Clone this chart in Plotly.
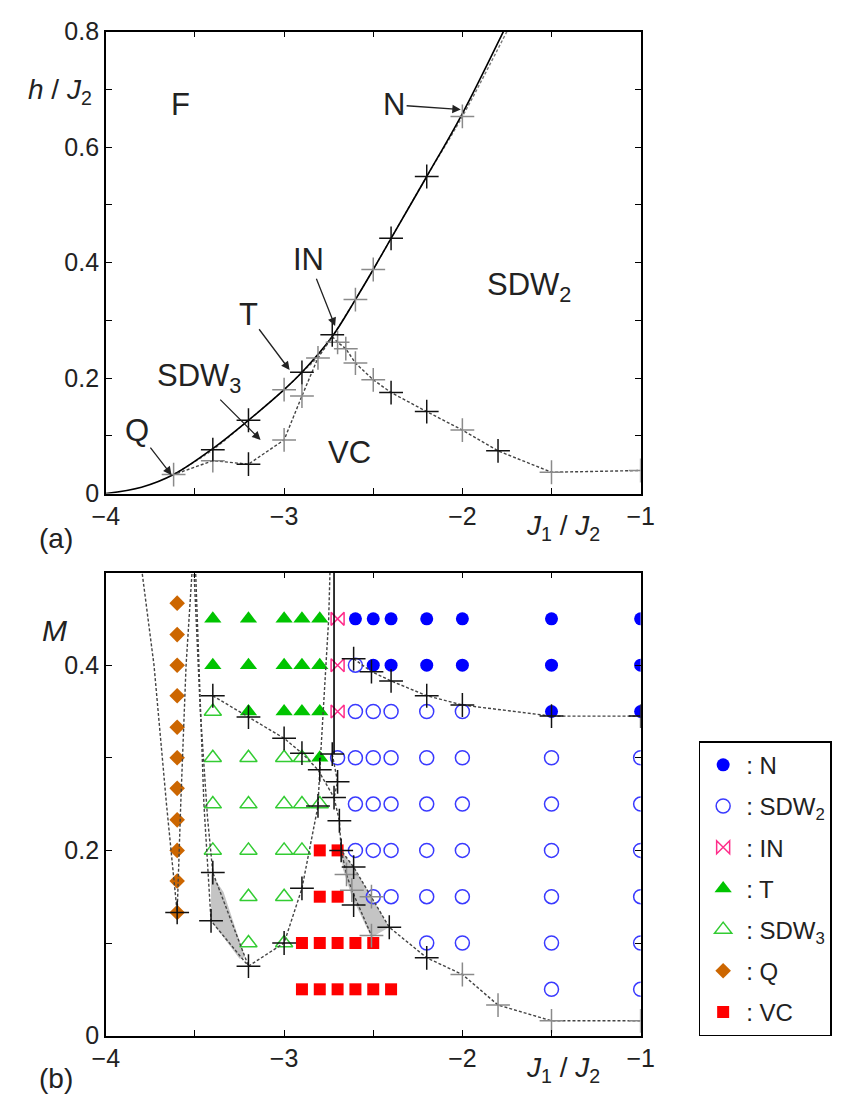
import plotly.graph_objects as go

FONT = "Liberation Sans, Arial, sans-serif"
W, H = 849, 1112

# ---------------- panel (a): h/J2 versus J1/J2 ----------------
# saturation field (solid curve)
sat_J = [-4.0, -3.8, -3.62, -3.4, -3.2, -3.0, -2.9, -2.73, -2.6, -2.5, -2.4, -2.2, -2.0, -1.77, -1.7]
sat_h = [0.0, 0.011, 0.033, 0.078, 0.127, 0.18, 0.21, 0.272, 0.336, 0.388, 0.442, 0.549, 0.658, 0.8, 0.845]
# numerically determined upper boundary (dashed, next to the solid curve)
upper_J = [-3.62, -3.4, -3.2, -3.0, -2.9, -2.81, -2.73, -2.6, -2.5, -2.4, -2.2, -2.0, -1.75, -1.69]
upper_h = [0.033, 0.076, 0.127, 0.18, 0.21, 0.237, 0.272, 0.336, 0.388, 0.442, 0.549, 0.653, 0.8, 0.835]
# SDW3 / VC boundary
sdw3_J = [-3.6, -3.4, -3.2, -3.0, -2.9, -2.81, -2.73]
sdw3_h = [0.035, 0.057, 0.051, 0.093, 0.169, 0.235, 0.272]
# SDW2 / VC boundary
vc_J = [-2.73, -2.70, -2.654, -2.60, -2.5, -2.4, -2.2, -2.0, -1.8, -1.5, -1.0]
vc_h = [0.272, 0.262, 0.251, 0.226, 0.197, 0.175, 0.142, 0.11, 0.074, 0.037, 0.04]
# computed points
a_dark_J = [-3.4, -3.2, -3.2, -2.9, -2.73, -2.4, -2.2, -2.4, -2.2, -1.8]
a_dark_h = [0.076, 0.051, 0.127, 0.21, 0.275, 0.442, 0.549, 0.175, 0.142, 0.074]
a_grey_J = [-3.62, -3.4, -3.0, -3.0, -2.9, -2.81, -2.70, -2.654, -2.6, -2.5, -2.6, -2.5, -2.0, -2.0, -1.5, -1.0]
a_grey_h = [0.033, 0.057, 0.093, 0.18, 0.169, 0.235, 0.262, 0.251, 0.226, 0.197, 0.336, 0.388, 0.653, 0.11, 0.037, 0.04]

# ---------------- panel (b): M versus J1/J2 ----------------
N_J = [-2.6, -2.5, -2.4, -2.2, -2.0, -1.5, -1.0, -2.5, -2.4, -2.2, -2.0, -1.5, -1.0, -1.5, -1.0]
N_M = [0.45] * 7 + [0.40] * 6 + [0.35] * 2

SDW2_J = ([-2.6]
          + [-2.6, -2.5, -2.4, -2.2, -2.0]
          + [-2.7, -2.6, -2.5, -2.4, -2.2, -2.0, -1.5, -1.0]
          + [-2.6, -2.5, -2.4, -2.2, -2.0, -1.5, -1.0]
          + [-2.6, -2.5, -2.4, -2.2, -2.0, -1.5, -1.0]
          + [-2.5, -2.4, -2.2, -2.0, -1.5, -1.0]
          + [-2.2, -2.0, -1.5, -1.0]
          + [-1.5, -1.0])
SDW2_M = ([0.40] + [0.35] * 5 + [0.30] * 8 + [0.25] * 7 + [0.20] * 7
          + [0.15] * 6 + [0.10] * 4 + [0.05] * 2)

IN_J = [-2.7, -2.7, -2.7]
IN_M = [0.45, 0.40, 0.35]

T_J = [-3.4, -3.2, -3.0, -2.9, -2.8, -3.4, -3.2, -3.0, -2.9, -2.8, -3.2, -3.0, -2.9, -2.8, -2.8]
T_M = [0.45] * 5 + [0.40] * 5 + [0.35] * 4 + [0.30]

SDW3_J = ([-3.4]
          + [-3.4, -3.2, -3.0, -2.9]
          + [-3.4, -3.2, -3.0, -2.9, -2.8]
          + [-3.4, -3.2, -3.0, -2.9]
          + [-3.2, -3.0]
          + [-3.2, -3.0])
SDW3_M = [0.35] + [0.30] * 4 + [0.25] * 5 + [0.20] * 4 + [0.15] * 2 + [0.10] * 2

Q_J = [-3.6] * 11
Q_M = [0.133, 0.167, 0.2, 0.233, 0.267, 0.3, 0.333, 0.367, 0.4, 0.433, 0.467]

VC_J = [-2.8, -2.7, -2.8, -2.7, -2.9, -2.8, -2.7, -2.6, -2.5, -2.9, -2.8, -2.7, -2.6, -2.5, -2.4]
VC_M = [0.20] * 2 + [0.15] * 2 + [0.10] * 5 + [0.05] * 6

# boundary curves in panel (b)
qL_J = [-3.81, -3.73, -3.66, -3.6]
qL_M = [0.52, 0.4, 0.25, 0.133]
qR_J = [-3.51, -3.55, -3.58, -3.6]
qR_M = [0.52, 0.4, 0.25, 0.133]
e1_J = [-3.51, -3.47, -3.43, -3.40, -3.2]
e1_M = [0.52, 0.35, 0.236, 0.176, 0.075]
e2_J = [-3.50, -3.47, -3.45, -3.41, -3.2]
e2_M = [0.52, 0.35, 0.25, 0.124, 0.075]
c_J = [-3.2, -3.0, -2.9, -2.81, -2.80, -2.77, -2.75, -2.74]
c_M = [0.075, 0.10, 0.159, 0.248, 0.287, 0.38, 0.45, 0.52]
f_J = [-3.4, -3.2, -3.0, -2.9, -2.81, -2.72]
f_M = [0.367, 0.344, 0.321, 0.305, 0.287, 0.257]
g_J = [-2.61, -2.51, -2.40, -2.2, -2.0, -1.5, -1.0]
g_M = [0.407, 0.393, 0.383, 0.367, 0.357, 0.345, 0.345]
a_J = [-2.73, -2.70, -2.72, -2.69, -2.68, -2.61, -2.41, -2.2, -2.0, -1.8, -1.5, -1.0]
a_M = [0.304, 0.274, 0.257, 0.232, 0.2, 0.182, 0.117, 0.084, 0.066, 0.033, 0.016, 0.016]
b_J = [-2.68, -2.65, -2.62, -2.51]
b_M = [0.2, 0.174, 0.157, 0.108]
vline_J = [-2.72, -2.72]
vline_M = [0.304, 0.52]
# shaded coexistence regions
shadeL_J = [-3.41, -3.34, -3.22, -3.25, -3.41]
shadeL_M = [0.175, 0.155, 0.085, 0.083, 0.124]
shadeR_J = [-2.68, -2.61, -2.41, -2.51, -2.62, -2.67]
shadeR_M = [0.2, 0.182, 0.117, 0.106, 0.15, 0.18]

b_dark_J = [-3.6, -3.40, -3.41, -3.2, -3.0, -2.9, -2.81, -2.80, -2.90, -3.0, -3.2, -3.4,
            -2.73, -2.70, -2.72, -2.69, -2.68, -2.61, -2.61, -2.41,
            -2.61, -2.51, -2.40, -2.2, -2.0, -1.5, -1.0, -2.2]
b_dark_M = [0.133, 0.176, 0.124, 0.075, 0.10, 0.159, 0.248, 0.287, 0.305, 0.321, 0.344, 0.367,
            0.304, 0.274, 0.257, 0.232, 0.2, 0.182, 0.141, 0.117,
            0.407, 0.393, 0.383, 0.367, 0.357, 0.345, 0.345, 0.084]
b_grey_J = [-2.65, -2.62, -2.51, -2.51, -2.0, -1.8, -1.5, -1.0]
b_grey_M = [0.174, 0.157, 0.108, 0.15, 0.066, 0.033, 0.016, 0.016]

# ---------------- styles ----------------
DASH = dict(color="#444444", width=1.4, dash="3px,2px")
DASH_GREY = dict(color="#777777", width=1.4, dash="3px,2px")

fig = go.Figure()


def line(x, y, xa, ya, style, shape="linear"):
    fig.add_trace(go.Scatter(x=x, y=y, xaxis=xa, yaxis=ya, mode="lines",
                             line=dict(shape=shape, **style), showlegend=False,
                             hoverinfo="skip"))


def crosses(x, y, xa, ya, color):
    fig.add_trace(go.Scatter(x=x, y=y, xaxis=xa, yaxis=ya, mode="markers",
                             marker=dict(symbol="cross-thin-open", size=17, color=color,
                                         line=dict(color=color, width=1.5)),
                             showlegend=False, hoverinfo="skip"))


# panel (a)
line(upper_J, upper_h, "x", "y", DASH_GREY, "spline")
line(sat_J, sat_h, "x", "y", dict(color="black", width=1.6), "spline")
line(sdw3_J, sdw3_h, "x", "y", DASH)
line(vc_J, vc_h, "x", "y", DASH)
crosses(a_grey_J, a_grey_h, "x", "y", "#8a8a8a")
crosses(a_dark_J, a_dark_h, "x", "y", "#111111")

# panel (b): shaded areas
for sx, sy in [(shadeL_J, shadeL_M), (shadeR_J, shadeR_M)]:
    fig.add_trace(go.Scatter(x=sx, y=sy, xaxis="x2", yaxis="y2", mode="lines",
                             fill="toself", fillcolor="#c4c4c4",
                             line=dict(width=0), showlegend=False, hoverinfo="skip"))

# panel (b): phase markers
phases = [
    (": N", N_J, N_M, dict(symbol="circle", size=13, color="#0000ff")),
    (": SDW<sub>2</sub>", SDW2_J, SDW2_M,
     dict(symbol="circle-open", size=14, color="#3a3aff", line=dict(width=1.5))),
    (": IN", IN_J, IN_M,
     dict(symbol="bowtie-open", size=13, color="#ff2d8a", line=dict(width=1.5))),
    (": T", T_J, T_M, dict(symbol="triangle-up", size=15, color="#00c400")),
    (": SDW<sub>3</sub>", SDW3_J, SDW3_M,
     dict(symbol="triangle-up-open", size=15, color="#33cc33", line=dict(width=1.5))),
    (": Q", Q_J, Q_M, dict(symbol="diamond", size=12, color="#cc6600")),
    (": VC", VC_J, VC_M, dict(symbol="square", size=12, color="#ff0000")),
]
for rank, (name, px, py, mk) in enumerate(phases):
    fig.add_trace(go.Scatter(x=px, y=py, xaxis="x2", yaxis="y2", mode="markers",
                             name=name, marker=mk, legendgroup=name,
                             legendrank=rank + 1, hoverinfo="skip"))

# panel (b): boundaries
for bx, by in [(qL_J, qL_M), (qR_J, qR_M), (e1_J, e1_M), (e2_J, e2_M), (c_J, c_M),
               (f_J, f_M), (g_J, g_M), (a_J, a_M), (b_J, b_M)]:
    line(bx, by, "x2", "y2", DASH)
line(vline_J, vline_M, "x2", "y2", dict(color="black", width=1.6))
crosses(b_grey_J, b_grey_M, "x2", "y2", "#8a8a8a")
crosses(b_dark_J, b_dark_M, "x2", "y2", "#111111")

# ---------------- axes ----------------
x_major = [-4, -3, -2, -1]
x_labels = ["\u22124", "\u22123", "\u22122", "\u22121"]
x_minor = [-3.5, -2.5, -1.5]
ya_major = [0, 0.2, 0.4, 0.6, 0.8]
ya_labels = ["0", "0.2", "0.4", "0.6", "0.8"]
ya_minor = [0.1, 0.3, 0.5, 0.7]
yb_major = [0, 0.2, 0.4]
yb_labels = ["0", "0.2", "0.4"]
yb_minor = [0.1, 0.3, 0.5]

xdom = [95 / W, 648 / W]
common = dict(showline=True, linecolor="black", linewidth=1.5, mirror="ticks",
              ticks="inside", ticklen=6, tickwidth=1.2, tickcolor="black",
              showgrid=False, zeroline=False,
              tickfont=dict(family=FONT, size=25, color="#222222"))


def minor(vals):
    return dict(tickvals=vals, ticks="inside", ticklen=6, tickwidth=1.2,
                tickcolor="black", showgrid=False)


fig.update_layout(
    width=W, height=H, margin=dict(l=0, r=0, t=0, b=0),
    paper_bgcolor="white", plot_bgcolor="white",
    font=dict(family=FONT, color="#222222"),
    xaxis=dict(domain=xdom, range=[-4, -1], tickvals=x_major, ticktext=x_labels,
               minor=minor(x_minor), anchor="y", **common),
    yaxis=dict(domain=[1 - 492 / H, 1 - 18 / H], range=[0, 0.8], tickvals=ya_major,
               ticktext=ya_labels, minor=minor(ya_minor), anchor="x", **common),
    xaxis2=dict(domain=xdom, range=[-4, -1], tickvals=x_major, ticktext=x_labels,
                minor=minor(x_minor), anchor="y2", **common),
    yaxis2=dict(domain=[1 - 1048 / H, 1 - 573 / H], range=[0, 0.5], tickvals=yb_major,
                ticktext=yb_labels, minor=minor(yb_minor), anchor="x2", **common),
    legend=dict(x=708 / W, y=1 - 746 / H, xanchor="left", yanchor="top",
                bordercolor="black", borderwidth=1.5, bgcolor="white",
                font=dict(family=FONT, size=24, color="#222222"),
                traceorder="grouped", tracegroupgap=7, itemsizing="trace",
                itemwidth=36),
)

# ---------------- labels ----------------
ann = []


def text(x, y, s, size=31, xref="x", yref="y"):
    ann.append(dict(x=x, y=y, xref=xref, yref=yref, text=s, showarrow=False,
                    font=dict(family=FONT, size=size, color="#222222"),
                    xanchor="center", yanchor="middle"))


def pointer(label, at, tip):
    # label placed at `at`, arrow running from the label to `tip`
    ann.append(dict(x=tip[0], y=tip[1], ax=at[0], ay=at[1], xref="x", yref="y",
                    axref="x", ayref="y", text=label, showarrow=True, arrowhead=2,
                    arrowsize=1.3, arrowwidth=1.3, arrowcolor="#222222",
                    font=dict(family=FONT, size=31, color="#222222")))


text(-3.58, 0.673, "F")
pointer("N", (-2.383, 0.673), (-2.009, 0.665))
pointer("IN", (-2.861, 0.405), (-2.714, 0.290))
text(-1.629, 0.358, "SDW<sub>2</sub>")
pointer("T", (-3.202, 0.31), (-2.969, 0.214))
pointer("SDW<sub>3</sub>", (-3.479, 0.2), (-3.132, 0.093))
pointer("Q", (-3.826, 0.11), (-3.631, 0.032))
text(-2.633, 0.071, "VC")

# axis titles and panel tags
text(48 / W, 1 - 80 / H, "<i>h</i> / <i>J</i><sub>2</sub>", size=28, xref="paper", yref="paper")
text(568 / W, 1 - 527 / H, "<i>J</i><sub>1</sub> / <i>J</i><sub>2</sub>", size=28, xref="paper", yref="paper")
text(43 / W, 1 - 538 / H, "(a)", size=28, xref="paper", yref="paper")
text(42 / W, 1 - 632 / H, "<i>M</i>", size=30, xref="paper", yref="paper")
text(568 / W, 1 - 1083 / H, "<i>J</i><sub>1</sub> / <i>J</i><sub>2</sub>", size=28, xref="paper", yref="paper")
text(43 / W, 1 - 1092 / H, "(b)", size=28, xref="paper", yref="paper")

fig.update_layout(annotations=ann)
fig.write_html("out.html")
